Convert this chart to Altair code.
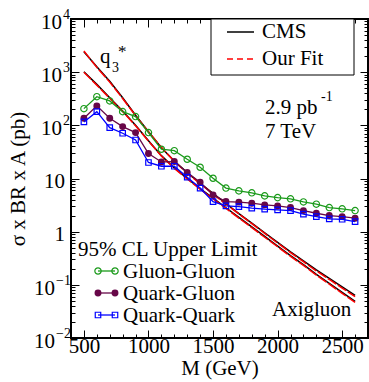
import altair as alt
import pandas as pd

# ---------------- data ----------------
mass = [500, 600, 700, 800, 900, 1000, 1100, 1200, 1300, 1400, 1500,
        1600, 1700, 1800, 1900, 2000, 2100, 2200, 2300, 2400, 2500, 2600]

gluon_gluon = [206, 346, 288, 181, 146, 73, 35.5, 33.4, 23, 16.3, 10.1,
               6.6, 5.85, 5.37, 4.71, 4.37, 4.14, 3.63, 3.29, 2.84, 2.69, 2.49]
quark_gluon = [136, 232, 136, 94.6, 73, 29.5, 20.5, 20.8, 13.0, 8.5, 4.92,
               3.68, 3.59, 3.43, 3.19, 3.05, 2.84, 2.49, 2.22, 2.01, 1.92, 1.79]
quark_quark = [116, 181, 90.6, 71, 53, 20, 17.0, 17.0, 10.6, 6.6, 3.68,
               3.05, 2.96, 2.77, 2.65, 2.57, 2.49, 2.13, 1.92, 1.74, 1.71, 1.55]

q3star_cms = [2430, 1260, 676, 331, 155, 75.9, 38.0, 21.4, 12.9, 8.13, 5.25,
              3.39, 2.19, 1.45, 0.955, 0.631, 0.417, 0.282, 0.191, 0.132, 0.0912, 0.0631]
q3star_fit = [2500, 1230, 650, 320, 152, 75.0, 38.5, 21.0, 12.6, 8.0, 5.1,
              3.3, 2.15, 1.42, 0.93, 0.61, 0.405, 0.272, 0.183, 0.126, 0.087, 0.060]
axigluon_cms = [1020, 589, 331, 186, 100, 51.3, 26.9, 15.8, 10.0, 6.46, 4.27,
                2.82, 1.86, 1.23, 0.813, 0.537, 0.355, 0.240, 0.158, 0.107, 0.0724, 0.0490]
axigluon_fit = [1000, 570, 322, 182, 98, 50.5, 26.5, 15.5, 9.8, 6.3, 4.15,
                2.74, 1.80, 1.19, 0.785, 0.52, 0.343, 0.232, 0.152, 0.103, 0.069, 0.0467]

x_major = [500, 1000, 1500, 2000, 2500]
x_minor = [m for m in range(600, 2700, 100) if m % 500 != 0]
y_major = [0.01, 0.1, 1, 10, 100, 1000, 10000]
y_minor = [k * 10.0 ** d for d in range(-2, 4) for k in range(2, 10)]

ylab_value = [10000, 1000, 100, 10, 1, 0.1, 0.01]
ylab_base = ["10", "10", "10", "10", "1", "10", "10"]
ylab_sup = ["4", "3", "2", "", "", "\u22121", "\u22122"]

series_names = ["Gluon-Gluon", "Quark-Gluon", "Quark-Quark"]

# ---------------- tables ----------------
pts = pd.DataFrame({
    "M": mass * 3,
    "v": gluon_gluon + quark_gluon + quark_quark,
    "series": [s for s in series_names for _ in mass],
})
curves = pd.DataFrame({
    "M": mass * 4,
    "v": q3star_cms + axigluon_cms + q3star_fit + axigluon_fit,
    "curve": ["q3"] * len(mass) + ["axi"] * len(mass) + ["q3"] * len(mass) + ["axi"] * len(mass),
    "src": ["CMS"] * (2 * len(mass)) + ["Fit"] * (2 * len(mass)),
})
ylabs = pd.DataFrame({"value": ylab_value, "base": ylab_base, "sup": ylab_sup})
one = pd.DataFrame({"k": [0]})

# ---------------- styling ----------------
W, H = 297, 319
FONT = "Liberation Serif"
FS = 21
xs = alt.Scale(domain=[400, 2700], nice=False, zero=False)
ys = alt.Scale(type="log", domain=[0.01, 10000], nice=False)
styles = {
    "Gluon-Gluon": dict(color="#1a9a1a", filled=False, shape="circle", size=40),
    "Quark-Gluon": dict(color="#670748", filled=True, shape="circle", size=48),
    "Quark-Quark": dict(color="#0000ff", filled=False, shape="square", size=30),
}

label_x_axis = alt.Axis(values=x_major, format="d", ticks=False, tickSize=0, domain=False, grid=False,
                        labelFont=FONT, labelFontSize=FS, labelColor="black",
                        labelBaseline="alphabetic", labelPadding=14,
                        title="M (GeV)", titleFont=FONT, titleFontSize=FS,
                        titleFontWeight="normal", titleColor="black",
                        titleY=36, titleBaseline="alphabetic")
label_y_axis = alt.Axis(labels=False, ticks=False, domain=False, grid=False,
                        title="\u03c3 x BR x A (pb)", titleFont=FONT, titleFontSize=FS,
                        titleFontWeight="normal", titleColor="black",
                        titleAngle=270, titleX=-53, titleY=H / 2,
                        titleAlign="center", titleBaseline="middle")

layers = []

# model curves
black = alt.Chart(curves).transform_filter("datum.src == 'CMS'").mark_line(
    color="black", strokeWidth=1.5).encode(
    x=alt.X("M:Q", scale=xs, axis=label_x_axis),
    y=alt.Y("v:Q", scale=ys, axis=label_y_axis),
    detail="curve:N")
red = alt.Chart(curves).transform_filter("datum.src == 'Fit'").mark_line(
    color="red", strokeWidth=1.5, strokeDash=[10, 2]).encode(
    x=alt.X("M:Q", scale=xs, axis=None),
    y=alt.Y("v:Q", scale=ys, axis=None),
    detail="curve:N")
layers += [black, red]

# limit series
for name in series_names:
    st = styles[name]
    base = alt.Chart(pts).transform_filter(f"datum.series == '{name}'")
    layers.append(base.mark_line(color=st["color"], strokeWidth=1.3).encode(
        x=alt.X("M:Q", scale=xs, axis=None), y=alt.Y("v:Q", scale=ys, axis=None)))
    layers.append(base.mark_point(color=st["color"], filled=st["filled"], shape=st["shape"],
                                  size=st["size"], strokeWidth=1.2, opacity=1).encode(
        x=alt.X("M:Q", scale=xs, axis=None), y=alt.Y("v:Q", scale=ys, axis=None)))


# inward ticks on all four sides
def tick_axes(xorient, yorient, xvals, yvals, size):
    common = dict(labels=False, domain=False, grid=False, ticks=True, tickSize=size,
                  offset=-size, tickColor="black", tickWidth=1, title=None)
    return alt.Chart(pts).mark_point(opacity=0).encode(
        x=alt.X("M:Q", scale=xs, axis=alt.Axis(orient=xorient, values=xvals, **common)),
        y=alt.Y("v:Q", scale=ys, axis=alt.Axis(orient=yorient, values=yvals, **common)))


layers += [
    tick_axes("bottom", "left", x_major, y_major, 8),
    tick_axes("bottom", "left", x_minor, y_minor, 4),
    tick_axes("top", "right", x_major, y_major, 8),
    tick_axes("top", "right", x_minor, y_minor, 4),
]

# y tick labels with superscripts
ylab = alt.Chart(ylabs)
layers += [
    ylab.transform_filter("datum.value >= 100").mark_text(
        font=FONT, fontSize=FS, align="right", baseline="alphabetic", dy=10, color="black").encode(
        x=alt.value(-9), y=alt.Y("value:Q", scale=ys, axis=None), text="base:N"),
    ylab.transform_filter("datum.value >= 100").mark_text(
        font=FONT, fontSize=14, align="left", baseline="alphabetic", dy=0, color="black").encode(
        x=alt.value(-8), y=alt.Y("value:Q", scale=ys, axis=None), text="sup:N"),
    ylab.transform_filter("datum.value < 0.5").mark_text(
        font=FONT, fontSize=FS, align="right", baseline="alphabetic", dy=10, color="black").encode(
        x=alt.value(-16), y=alt.Y("value:Q", scale=ys, axis=None), text="base:N"),
    ylab.transform_filter("datum.value < 0.5").mark_text(
        font=FONT, fontSize=14, align="left", baseline="alphabetic", dy=0, color="black").encode(
        x=alt.value(-15), y=alt.Y("value:Q", scale=ys, axis=None), text="sup:N"),
    ylab.transform_filter("datum.value > 0.5 && datum.value < 50").mark_text(
        font=FONT, fontSize=FS, align="right", baseline="alphabetic", dy=9, color="black").encode(
        x=alt.value(-6), y=alt.Y("value:Q", scale=ys, axis=None), text="base:N"),
]


def txt(s, x, y, size=FS, align="left"):
    return alt.Chart(one).mark_text(text=s, font=FONT, fontSize=size, align=align,
                                    baseline="alphabetic", color="black").encode(
        x=alt.value(x), y=alt.value(y))


# annotations
layers += [
    txt("q", 29, 44),
    txt("3", 41, 53, 14),
    txt("*", 47, 38, 17),
    txt("2.9 pb", 194, 95),
    txt("-1", 250, 82, 14),
    txt("7 TeV", 194, 119),
    txt("Axigluon", 201, 297),
    txt("95% CL Upper Limit", 7, 237),
]

# top legend box
layers += [
    alt.Chart(one).mark_rect(fill="white", stroke="black", strokeWidth=1).encode(
        x=alt.value(140), x2=alt.value(283), y=alt.value(0), y2=alt.value(56)),
    alt.Chart(one).mark_rule(color="black", strokeWidth=1.5).encode(
        x=alt.value(156), x2=alt.value(183), y=alt.value(13)),
    txt("CMS", 191, 19),
    alt.Chart(one).mark_rule(color="red", strokeWidth=1.5, strokeDash=[6, 4]).encode(
        x=alt.value(156), x2=alt.value(184), y=alt.value(40)),
    txt("Our Fit", 191, 46),
]

# bottom-left series legend
for i, name in enumerate(series_names):
    st = styles[name]
    yy = 252 + 22 * i
    layers.append(alt.Chart(one).mark_rule(color=st["color"], strokeWidth=1.3).encode(
        x=alt.value(27), x2=alt.value(44), y=alt.value(yy)))
    for xx in (27, 44):
        layers.append(alt.Chart(one).mark_point(color=st["color"], filled=st["filled"],
                                                shape=st["shape"], size=st["size"],
                                                strokeWidth=1.2, opacity=1).encode(
            x=alt.value(xx), y=alt.value(yy)))
    layers.append(txt(name, 52, yy + 7))

chart = alt.layer(*layers).resolve_axis(x="independent", y="independent").properties(
    width=W, height=H,
    autosize=alt.AutoSizeParams(type="none"),
    padding={"left": 71, "top": 19, "right": 1, "bottom": 44},
    background="white",
).configure_view(stroke="black", strokeWidth=2)

chart.save("out.html", embed_options={"renderer": "svg", "actions": False})
